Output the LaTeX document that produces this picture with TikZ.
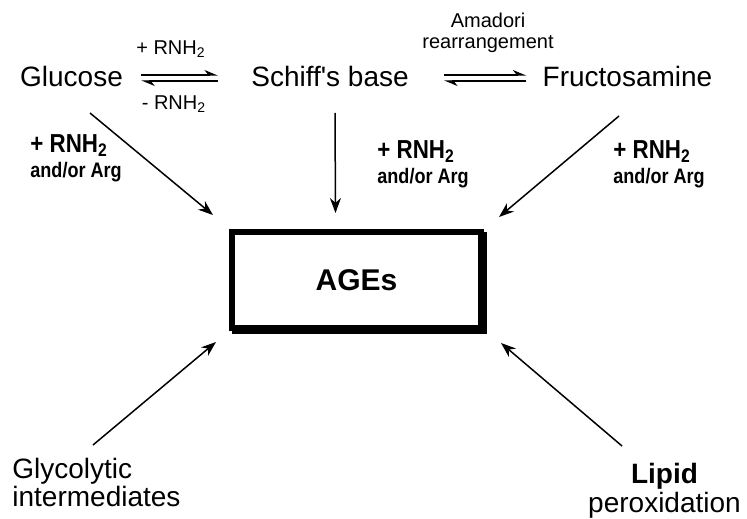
\documentclass[tikz,border=0pt]{standalone}
\usepackage{fontspec}
\setmainfont{Liberation Sans}
\newfontfamily\narrowsans[FakeStretch=0.86]{Liberation Sans}
\usetikzlibrary{arrows.meta}

\begin{document}
\begin{tikzpicture}[x=0.5pt,y=-0.5pt,
  every node/.style={inner sep=0pt},
  chem/.style={font=\fontsize{14}{14}\selectfont},
  cond/.style={font=\fontsize{10}{10.5}\selectfont},
  reag/.style={font=\narrowsans\bfseries\fontsize{10.5}{12.5}\selectfont, align=left, anchor=north west},
  feed/.style={line width=0.75pt, -{Stealth[length=7.5pt,width=5.5pt]}},
  eqarr/.style={line width=0.6pt, -{Stealth[harpoon,length=6pt,width=5pt]}}]
\useasboundingbox (0,0) rectangle (747,518);

\node[chem, anchor=base] (glc) at (71.5,87) {Glucose};
\node[chem, anchor=base] (schiff) at (330,87) {Schiff\textquotesingle s base};
\node[chem, anchor=base] (fru) at (627.5,87) {Fructosamine};

\node[draw, line width=3pt, fill=white, minimum width=124.5pt, minimum height=48pt,
  font=\bfseries\fontsize{15}{15}\selectfont,
  preaction={draw, line width=3pt, transform canvas={shift={(1.5pt,-1.5pt)}}}] (ages) at (356.5,280) {AGEs};

\node[chem, align=left, anchor=north west] (gly) at (12,458) {Glycolytic\\intermediates};
\node[font=\fontsize{14}{14.5}\selectfont, align=center, anchor=north] (lip) at (664.5,463) {\textbf{Lipid}\\peroxidation};

\node[cond, anchor=base] (addA) at (171,55) {+ RNH\textsubscript{2}};
\node[cond, anchor=base] (remA) at (174,110) {- RNH\textsubscript{2}};
\node[cond, align=center, anchor=north] (amadori) at (488,13) {Amadori\\rearrangement};

\node[reag] (rgA) at (30,134) {{\fontsize{13}{12.5}\selectfont + RNH\textsubscript{2}}\\and/or Arg};
\node[reag] (rgB) at (377,140) {{\fontsize{13}{12.5}\selectfont + RNH\textsubscript{2}}\\and/or Arg};
\node[reag] (rgC) at (613,140) {{\fontsize{13}{12.5}\selectfont + RNH\textsubscript{2}}\\and/or Arg};

\draw[eqarr, shorten <=9pt, shorten >=16.5pt] ([yshift=6pt]glc.base east) -- ([yshift=6pt]schiff.base west);
\draw[eqarr, shorten <=16.5pt, shorten >=9pt] ([yshift=3pt]schiff.base west) -- ([yshift=3pt]glc.base east);
\draw[eqarr, shorten <=17.5pt, shorten >=8pt] ([yshift=6pt]schiff.base east) -- ([yshift=6pt]fru.base west);
\draw[eqarr, shorten <=8pt, shorten >=17.5pt] ([yshift=3pt]fru.base west) -- ([yshift=3pt]schiff.base east);

\draw[feed] ([shift={(9.25pt,-13pt)}]glc.base) -- ([shift={(-8pt,7pt)}]ages.north west);
\draw[feed] ([shift={(2.5pt,-13pt)}]schiff.base) -- ([shift={(-10.5pt,8pt)}]ages.north);
\draw[feed] ([shift={(-4.25pt,-14.5pt)}]fru.base) -- ([shift={(7.5pt,6pt)}]ages.north east);
\draw[feed] ([shift={(40.5pt,6.5pt)}]gly.north west) -- ([shift={(-6.5pt,-5.5pt)}]ages.south west);
\draw[feed] ([shift={(-21.25pt,8.5pt)}]lip.north) -- ([shift={(8.5pt,-6pt)}]ages.south east);
\end{tikzpicture}
\end{document}
